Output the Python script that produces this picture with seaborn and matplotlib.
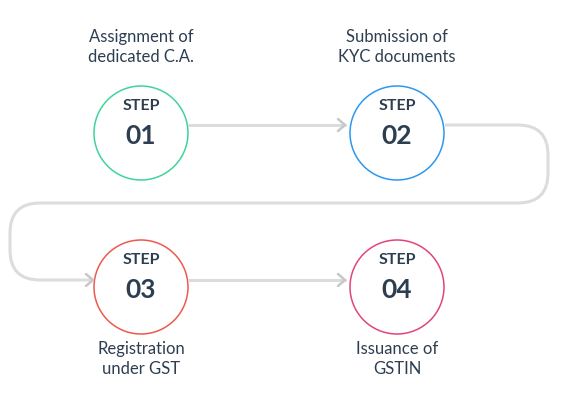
import matplotlib
matplotlib.use("Agg")
import matplotlib.pyplot as plt
import seaborn as sns
from matplotlib.path import Path
from matplotlib.patches import PathPatch, Circle

sns.set_theme(style="white")
plt.rcParams["font.family"] = ["Lato", "DejaVu Sans"]

# step data
step_numbers = ["01", "02", "03", "04"]
step_labels = ["Assignment of\ndedicated C.A.", "Submission of\nKYC documents",
               "Registration\nunder GST", "Issuance of\nGSTIN"]
step_colors = ["#3fd49a", "#2c98f0", "#ec5a4e", "#e0457b"]
step_x = [141, 397, 141, 397]
step_y = [133, 133, 287, 287]
label_above = [True, True, False, False]

TEXT = "#2d3e50"
LINE = "#dcdcdc"
R = 47

fig = plt.figure(figsize=(5.64, 4.03), dpi=100)
ax = fig.add_axes([0, 0, 1, 1])
ax.set_xlim(0, 564)
ax.set_ylim(403, 0)
ax.axis("off")

# connectors
ax.plot([189, 345], [125, 125], color=LINE, lw=2.2, solid_capstyle="round")
ax.plot([189, 345], [280, 280], color=LINE, lw=2.2, solid_capstyle="round")
verts = [(445, 125), (518, 125), (548, 125), (548, 155), (548, 173),
         (548, 203), (518, 203), (40, 203), (10, 203), (10, 233), (10, 250),
         (10, 280), (40, 280), (93, 280)]
codes = [Path.MOVETO, Path.LINETO, Path.CURVE3, Path.CURVE3, Path.LINETO,
         Path.CURVE3, Path.CURVE3, Path.LINETO, Path.CURVE3, Path.CURVE3,
         Path.LINETO, Path.CURVE3, Path.CURVE3, Path.LINETO]
ax.add_patch(PathPatch(Path(verts, codes), fill=False, edgecolor=LINE, lw=2.2))
for ex, ey in [(345, 125), (93, 280), (345, 280)]:
    ax.plot([ex - 7, ex, ex - 7], [ey - 6, ey, ey + 6], color="#c8c8c8", lw=1.8,
            solid_capstyle="round", solid_joinstyle="round")

for num, lab, col, x, y, above in zip(step_numbers, step_labels, step_colors,
                                      step_x, step_y, label_above):
    ax.add_patch(Circle((x, y), R, facecolor="white", edgecolor=col, lw=1.1))
    ax.text(x, y - 27, "STEP", ha="center", va="center", fontsize=11.5,
            fontweight="bold", color=TEXT)
    ax.text(x, y + 3, num, ha="center", va="center", fontsize=19,
            fontweight="bold", color=TEXT)
    ly = y - 86 if above else y + 72
    ax.text(x, ly, lab, ha="center", va="center", fontsize=12, color=TEXT,
            linespacing=1.25)

fig.savefig("out.png", dpi=100)
